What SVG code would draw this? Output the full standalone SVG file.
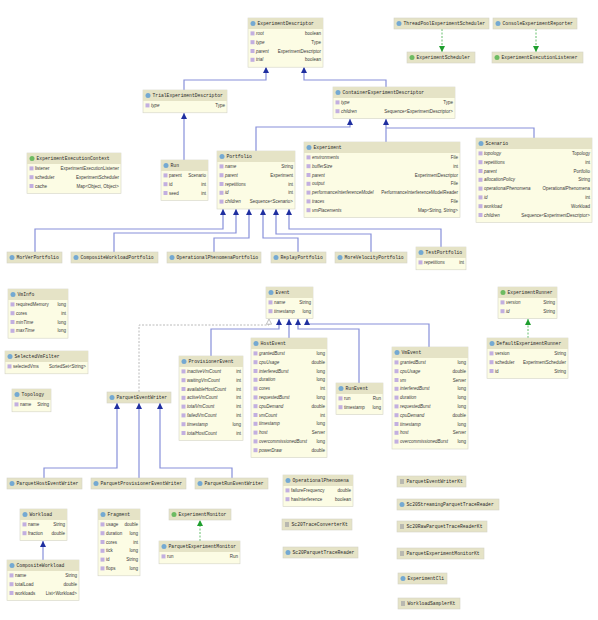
<svg xmlns="http://www.w3.org/2000/svg" width="598" height="620" viewBox="0 0 598 620">
<style>
.b{fill:#fcfce4;stroke:#d3d3c6;stroke-width:.6}
.h{fill:#e5e3c6}
.hb{fill:#e5e3c6;stroke:#d3d3c6;stroke-width:.6}
.t{font-family:"Liberation Mono",monospace;font-size:4.7px;fill:#2a2a2a}
.f{font-family:"Liberation Sans",sans-serif;font-size:4.5px;fill:#3a3a3a}
.i{font-style:italic}
.r{text-anchor:end;font-style:normal}
.ic{fill:#74a9d2}
.ii{fill:#6dbb62}
.ik{fill:#b8b8b0}
.p{fill:#c2afe0}
.g{stroke:#8790da;fill:none;stroke-width:1.2}
.gd{stroke:#3fae48;stroke-dasharray:2 1.5;fill:none;stroke-width:.8}
.dd{stroke:#a8a8a8;stroke-dasharray:2 1.5;fill:none;stroke-width:.8}
</style>
<defs>
<marker id="gen" markerUnits="userSpaceOnUse" markerWidth="6" markerHeight="6" viewBox="0 0 6 6" refX="6" refY="3" orient="auto"><path d="M0,0 L6,3 L0,6 z" fill="#1f2fa0"/></marker>
<marker id="real" markerUnits="userSpaceOnUse" markerWidth="6" markerHeight="6" viewBox="0 0 6 6" refX="6" refY="3" orient="auto"><path d="M0,0 L6,3 L0,6 z" fill="#1e9e2e"/></marker>
<marker id="dep" markerUnits="userSpaceOnUse" markerWidth="6" markerHeight="6" viewBox="0 0 6 6" refX="5.6" refY="3" orient="auto"><path d="M0.4,0.4 L5.6,3 L0.4,5.6 z" fill="#fff" stroke="#999" stroke-width=".6"/></marker>
</defs>

<g id="connectors">
<path class="g" marker-end="url(#gen)" d="M184 90 V80 H266 V67"/>
<path class="g" marker-end="url(#gen)" d="M386 87 V80 H304 V67"/>
<path class="g" marker-end="url(#gen)" d="M184 160 V113"/>
<path class="g" marker-end="url(#gen)" d="M256 151 V127 H350 V119"/>
<path class="g" marker-end="url(#gen)" d="M386 142 V119"/>
<path class="g" d="M534 138 V128 H386"/>
<path class="g" marker-end="url(#gen)" d="M35 252 V229 H223 V209"/>
<path class="g" marker-end="url(#gen)" d="M114 252 V233 H236 V209"/>
<path class="g" marker-end="url(#gen)" d="M214 252 V238 H249 V209"/>
<path class="g" marker-end="url(#gen)" d="M298 252 V238 H263 V209"/>
<path class="g" marker-end="url(#gen)" d="M371 252 V234 H276 V209"/>
<path class="g" marker-end="url(#gen)" d="M441 247 V229 H289 V209"/>
<path class="g" marker-end="url(#gen)" d="M211 356 V329 H279 V319"/>
<path class="g" marker-end="url(#gen)" d="M289 338 V319"/>
<path class="g" marker-end="url(#gen)" d="M359 383 V329 H298 V319"/>
<path class="g" marker-end="url(#gen)" d="M429 347 V324 H307 V319"/>
<path class="dd" marker-end="url(#dep)" d="M139 392 V325 H269 V319"/>
<path class="g" marker-end="url(#gen)" d="M44 478 V468 H117 V403"/>
<path class="g" marker-end="url(#gen)" d="M139 478 V403"/>
<path class="g" marker-end="url(#gen)" d="M232 478 V468 H160 V403"/>
<path class="g" marker-end="url(#gen)" d="M43 560 V541"/>
<path class="gd" marker-end="url(#real)" d="M442 29 V52"/>
<path class="gd" marker-end="url(#real)" d="M536 29 V52"/>
<path class="gd" marker-end="url(#real)" d="M528 338 V319"/>
<path class="gd" marker-end="url(#real)" d="M200 541 V520"/>
</g>

<g id="ExperimentDescriptor"><rect class="b" x="248" y="18" width="75" height="49.2"/><rect class="h" x="248" y="18" width="75" height="11"/><circle class="ic" cx="253" cy="23.5" r="2.5"/><text class="t" x="257.5" y="25.3">ExperimentDescriptor</text>
<rect class="p" x="250.5" y="31.4" width="4" height="4"/><text class="f i" x="256" y="35">root</text><text class="f r" x="321" y="35">boolean</text>
<rect class="p" x="250.5" y="40.2" width="4" height="4"/><text class="f i" x="256" y="43.8">type</text><text class="f r" x="321" y="43.8">Type</text>
<rect class="p" x="250.5" y="49" width="4" height="4"/><text class="f i" x="256" y="52.6">parent</text><text class="f r" x="321" y="52.6">ExperimentDescriptor</text>
<rect class="p" x="250.5" y="57.8" width="4" height="4"/><text class="f i" x="256" y="61.4">trial</text><text class="f r" x="321" y="61.4">boolean</text></g>

<g id="ThreadPoolExperimentScheduler"><rect class="hb" x="394" y="18" width="95" height="11"/><circle class="ic" cx="399" cy="23.5" r="2.5"/><text class="t" x="403.5" y="25.3">ThreadPoolExperimentScheduler</text></g>
<g id="ConsoleExperimentReporter"><rect class="hb" x="493" y="18" width="84" height="11"/><circle class="ic" cx="498" cy="23.5" r="2.5"/><text class="t" x="502.5" y="25.3">ConsoleExperimentReporter</text></g>
<g id="ExperimentScheduler"><rect class="hb" x="407" y="52" width="68" height="11"/><circle class="ii" cx="412" cy="57.5" r="2.5"/><text class="t" x="416.5" y="59.3">ExperimentScheduler</text></g>
<g id="ExperimentExecutionListener"><rect class="hb" x="492" y="52" width="91" height="11"/><circle class="ii" cx="497" cy="57.5" r="2.5"/><text class="t" x="501.5" y="59.3">ExperimentExecutionListener</text></g>

<g id="TrialExperimentDescriptor"><rect class="b" x="143" y="90" width="84" height="22.8"/><rect class="h" x="143" y="90" width="84" height="11"/><circle class="ic" cx="148" cy="95.5" r="2.5"/><text class="t" x="152.5" y="97.3">TrialExperimentDescriptor</text>
<rect class="p" x="145.5" y="103.4" width="4" height="4"/><text class="f i" x="151" y="107">type</text><text class="f r" x="225" y="107">Type</text></g>

<g id="ExperimentExecutionContext"><rect class="b" x="27" y="153" width="94" height="40.4"/><rect class="h" x="27" y="153" width="94" height="11"/><circle class="ii" cx="32" cy="158.5" r="2.5"/><text class="t" x="36.5" y="160.3">ExperimentExecutionContext</text>
<rect class="p" x="29.5" y="166.4" width="4" height="4"/><text class="f" x="35" y="170">listener</text><text class="f r" x="119" y="170">ExperimentExecutionListener</text>
<rect class="p" x="29.5" y="175.2" width="4" height="4"/><text class="f" x="35" y="178.8">scheduler</text><text class="f r" x="119" y="178.8">ExperimentScheduler</text>
<rect class="p" x="29.5" y="184" width="4" height="4"/><text class="f" x="35" y="187.6">cache</text><text class="f r" x="119" y="187.6">Map&lt;Object, Object&gt;</text></g>

<g id="Run"><rect class="b" x="161" y="160" width="47" height="40.4"/><rect class="h" x="161" y="160" width="47" height="11"/><circle class="ic" cx="166" cy="165.5" r="2.5"/><text class="t" x="170.5" y="167.3">Run</text>
<rect class="p" x="163.5" y="173.4" width="4" height="4"/><text class="f" x="169" y="177">parent</text><text class="f r" x="206" y="177">Scenario</text>
<rect class="p" x="163.5" y="182.2" width="4" height="4"/><text class="f" x="169" y="185.8">id</text><text class="f r" x="206" y="185.8">int</text>
<rect class="p" x="163.5" y="191" width="4" height="4"/><text class="f" x="169" y="194.6">seed</text><text class="f r" x="206" y="194.6">int</text></g>

<g id="ContainerExperimentDescriptor"><rect class="b" x="333" y="87" width="122" height="31.6"/><rect class="h" x="333" y="87" width="122" height="11"/><circle class="ic" cx="338" cy="92.5" r="2.5"/><text class="t" x="342.5" y="94.3">ContainerExperimentDescriptor</text>
<rect class="p" x="335.5" y="100.4" width="4" height="4"/><text class="f i" x="341" y="104">type</text><text class="f r" x="453" y="104">Type</text>
<rect class="p" x="335.5" y="109.2" width="4" height="4"/><text class="f i" x="341" y="112.8">children</text><text class="f r" x="453" y="112.8">Sequence&lt;ExperimentDescriptor&gt;</text></g>

<g id="Portfolio"><rect class="b" x="217" y="151" width="78" height="58"/><rect class="h" x="217" y="151" width="78" height="11"/><circle class="ic" cx="222" cy="156.5" r="2.5"/><text class="t" x="226.5" y="158.3">Portfolio</text>
<rect class="p" x="219.5" y="164.4" width="4" height="4"/><text class="f i" x="225" y="168">name</text><text class="f r" x="293" y="168">String</text>
<rect class="p" x="219.5" y="173.2" width="4" height="4"/><text class="f i" x="225" y="176.8">parent</text><text class="f r" x="293" y="176.8">Experiment</text>
<rect class="p" x="219.5" y="182" width="4" height="4"/><text class="f i" x="225" y="185.6">repetitions</text><text class="f r" x="293" y="185.6">int</text>
<rect class="p" x="219.5" y="190.8" width="4" height="4"/><text class="f i" x="225" y="194.4">id</text><text class="f r" x="293" y="194.4">int</text>
<rect class="p" x="219.5" y="199.6" width="4" height="4"/><text class="f i" x="225" y="203.2">children</text><text class="f r" x="293" y="203.2">Sequence&lt;Scenario&gt;</text></g>

<g id="Experiment"><rect class="b" x="304" y="142" width="156" height="75.6"/><rect class="h" x="304" y="142" width="156" height="11"/><circle class="ic" cx="309" cy="147.5" r="2.5"/><text class="t" x="313.5" y="149.3">Experiment</text>
<rect class="p" x="306.5" y="155.4" width="4" height="4"/><text class="f i" x="312" y="159">environments</text><text class="f r" x="458" y="159">File</text>
<rect class="p" x="306.5" y="164.2" width="4" height="4"/><text class="f i" x="312" y="167.8">bufferSize</text><text class="f r" x="458" y="167.8">int</text>
<rect class="p" x="306.5" y="173" width="4" height="4"/><text class="f i" x="312" y="176.6">parent</text><text class="f r" x="458" y="176.6">ExperimentDescriptor</text>
<rect class="p" x="306.5" y="181.8" width="4" height="4"/><text class="f i" x="312" y="185.4">output</text><text class="f r" x="458" y="185.4">File</text>
<rect class="p" x="306.5" y="190.6" width="4" height="4"/><text class="f i" x="312" y="194.2">performanceInterferenceModel</text><text class="f r" x="458" y="194.2">PerformanceInterferenceModelReader</text>
<rect class="p" x="306.5" y="199.4" width="4" height="4"/><text class="f i" x="312" y="203">traces</text><text class="f r" x="458" y="203">File</text>
<rect class="p" x="306.5" y="208.2" width="4" height="4"/><text class="f i" x="312" y="211.8">vmPlacements</text><text class="f r" x="458" y="211.8">Map&lt;String, String&gt;</text></g>

<g id="Scenario"><rect class="b" x="476" y="138" width="116" height="84.4"/><rect class="h" x="476" y="138" width="116" height="11"/><circle class="ic" cx="481" cy="143.5" r="2.5"/><text class="t" x="485.5" y="145.3">Scenario</text>
<rect class="p" x="478.5" y="151.4" width="4" height="4"/><text class="f i" x="484" y="155">topology</text><text class="f r" x="590" y="155">Topology</text>
<rect class="p" x="478.5" y="160.2" width="4" height="4"/><text class="f i" x="484" y="163.8">repetitions</text><text class="f r" x="590" y="163.8">int</text>
<rect class="p" x="478.5" y="169" width="4" height="4"/><text class="f i" x="484" y="172.6">parent</text><text class="f r" x="590" y="172.6">Portfolio</text>
<rect class="p" x="478.5" y="177.8" width="4" height="4"/><text class="f i" x="484" y="181.4">allocationPolicy</text><text class="f r" x="590" y="181.4">String</text>
<rect class="p" x="478.5" y="186.6" width="4" height="4"/><text class="f i" x="484" y="190.2">operationalPhenomena</text><text class="f r" x="590" y="190.2">OperationalPhenomena</text>
<rect class="p" x="478.5" y="195.4" width="4" height="4"/><text class="f i" x="484" y="199">id</text><text class="f r" x="590" y="199">int</text>
<rect class="p" x="478.5" y="204.2" width="4" height="4"/><text class="f i" x="484" y="207.8">workload</text><text class="f r" x="590" y="207.8">Workload</text>
<rect class="p" x="478.5" y="213" width="4" height="4"/><text class="f i" x="484" y="216.6">children</text><text class="f r" x="590" y="216.6">Sequence&lt;ExperimentDescriptor&gt;</text></g>

<g id="MorVerPortfolio"><rect class="hb" x="7" y="252" width="55" height="11"/><circle class="ic" cx="12" cy="257.5" r="2.5"/><text class="t" x="16.5" y="259.3">MorVerPortfolio</text></g>
<g id="CompositeWorkloadPortfolio"><rect class="hb" x="71" y="252" width="87" height="11"/><circle class="ic" cx="76" cy="257.5" r="2.5"/><text class="t" x="80.5" y="259.3">CompositeWorkloadPortfolio</text></g>
<g id="OperationalPhenomenaPortfolio"><rect class="hb" x="167" y="252" width="94" height="11"/><circle class="ic" cx="172" cy="257.5" r="2.5"/><text class="t" x="176.5" y="259.3">OperationalPhenomenaPortfolio</text></g>
<g id="ReplayPortfolio"><rect class="hb" x="271" y="252" width="55" height="11"/><circle class="ic" cx="276" cy="257.5" r="2.5"/><text class="t" x="280.5" y="259.3">ReplayPortfolio</text></g>
<g id="MoreVelocityPortfolio"><rect class="hb" x="335" y="252" width="72" height="11"/><circle class="ic" cx="340" cy="257.5" r="2.5"/><text class="t" x="344.5" y="259.3">MoreVelocityPortfolio</text></g>
<g id="TestPortfolio"><rect class="b" x="416" y="247" width="50" height="22.8"/><rect class="h" x="416" y="247" width="50" height="11"/><circle class="ic" cx="421" cy="252.5" r="2.5"/><text class="t" x="425.5" y="254.3">TestPortfolio</text>
<rect class="p" x="418.5" y="260.4" width="4" height="4"/><text class="f i" x="424" y="264">repetitions</text><text class="f r" x="464" y="264">int</text></g>

<g id="VmInfo"><rect class="b" x="8" y="289" width="60" height="49.2"/><rect class="h" x="8" y="289" width="60" height="11"/><circle class="ic" cx="13" cy="294.5" r="2.5"/><text class="t" x="17.5" y="296.3">VmInfo</text>
<rect class="p" x="10.5" y="302.4" width="4" height="4"/><text class="f" x="16" y="306">requiredMemory</text><text class="f r" x="66" y="306">long</text>
<rect class="p" x="10.5" y="311.2" width="4" height="4"/><text class="f" x="16" y="314.8">cores</text><text class="f r" x="66" y="314.8">int</text>
<rect class="p" x="10.5" y="320" width="4" height="4"/><text class="f i" x="16" y="323.6">minTime</text><text class="f r" x="66" y="323.6">long</text>
<rect class="p" x="10.5" y="328.8" width="4" height="4"/><text class="f i" x="16" y="332.4">maxTime</text><text class="f r" x="66" y="332.4">long</text></g>

<g id="SelectedVmFilter"><rect class="b" x="5" y="351" width="83" height="22.8"/><rect class="h" x="5" y="351" width="83" height="11"/><circle class="ic" cx="10" cy="356.5" r="2.5"/><text class="t" x="14.5" y="358.3">SelectedVmFilter</text>
<rect class="p" x="7.5" y="364.4" width="4" height="4"/><text class="f" x="13" y="368">selectedVms</text><text class="f r" x="86" y="368">SortedSet&lt;String&gt;</text></g>

<g id="Topology"><rect class="b" x="12" y="389" width="39" height="22.8"/><rect class="h" x="12" y="389" width="39" height="11"/><circle class="ic" cx="17" cy="394.5" r="2.5"/><text class="t" x="21.5" y="396.3">Topology</text>
<rect class="p" x="14.5" y="402.4" width="4" height="4"/><text class="f" x="20" y="406">name</text><text class="f r" x="49" y="406">String</text></g>

<g id="ParquetEventWriter"><rect class="hb" x="107" y="392" width="64" height="11"/><circle class="ic" cx="112" cy="397.5" r="2.5"/><text class="t" x="116.5" y="399.3">ParquetEventWriter</text></g>

<g id="Event"><rect class="b" x="266" y="287" width="47" height="31.6"/><rect class="h" x="266" y="287" width="47" height="11"/><circle class="ic" cx="271" cy="292.5" r="2.5"/><text class="t" x="275.5" y="294.3">Event</text>
<rect class="p" x="268.5" y="300.4" width="4" height="4"/><text class="f i" x="274" y="304">name</text><text class="f r" x="311" y="304">String</text>
<rect class="p" x="268.5" y="309.2" width="4" height="4"/><text class="f i" x="274" y="312.8">timestamp</text><text class="f r" x="311" y="312.8">long</text></g>

<g id="ProvisionerEvent"><rect class="b" x="179" y="356" width="64" height="84.4"/><rect class="h" x="179" y="356" width="64" height="11"/><circle class="ic" cx="184" cy="361.5" r="2.5"/><text class="t" x="188.5" y="363.3">ProvisionerEvent</text>
<rect class="p" x="181.5" y="369.4" width="4" height="4"/><text class="f i" x="187" y="373">inactiveVmCount</text><text class="f r" x="241" y="373">int</text>
<rect class="p" x="181.5" y="378.2" width="4" height="4"/><text class="f i" x="187" y="381.8">waitingVmCount</text><text class="f r" x="241" y="381.8">int</text>
<rect class="p" x="181.5" y="387" width="4" height="4"/><text class="f i" x="187" y="390.6">availableHostCount</text><text class="f r" x="241" y="390.6">int</text>
<rect class="p" x="181.5" y="395.8" width="4" height="4"/><text class="f i" x="187" y="399.4">activeVmCount</text><text class="f r" x="241" y="399.4">int</text>
<rect class="p" x="181.5" y="404.6" width="4" height="4"/><text class="f i" x="187" y="408.2">totalVmCount</text><text class="f r" x="241" y="408.2">int</text>
<rect class="p" x="181.5" y="413.4" width="4" height="4"/><text class="f i" x="187" y="417">failedVmCount</text><text class="f r" x="241" y="417">int</text>
<rect class="p" x="181.5" y="422.2" width="4" height="4"/><text class="f i" x="187" y="425.8">timestamp</text><text class="f r" x="241" y="425.8">long</text>
<rect class="p" x="181.5" y="431" width="4" height="4"/><text class="f i" x="187" y="434.6">totalHostCount</text><text class="f r" x="241" y="434.6">int</text></g>

<g id="HostEvent"><rect class="b" x="251" y="338" width="76" height="119.6"/><rect class="h" x="251" y="338" width="76" height="11"/><circle class="ic" cx="256" cy="343.5" r="2.5"/><text class="t" x="260.5" y="345.3">HostEvent</text>
<rect class="p" x="253.5" y="351.4" width="4" height="4"/><text class="f i" x="259" y="355">grantedBurst</text><text class="f r" x="325" y="355">long</text>
<rect class="p" x="253.5" y="360.2" width="4" height="4"/><text class="f i" x="259" y="363.8">cpuUsage</text><text class="f r" x="325" y="363.8">double</text>
<rect class="p" x="253.5" y="369" width="4" height="4"/><text class="f i" x="259" y="372.6">interferedBurst</text><text class="f r" x="325" y="372.6">long</text>
<rect class="p" x="253.5" y="377.8" width="4" height="4"/><text class="f i" x="259" y="381.4">duration</text><text class="f r" x="325" y="381.4">long</text>
<rect class="p" x="253.5" y="386.6" width="4" height="4"/><text class="f i" x="259" y="390.2">cores</text><text class="f r" x="325" y="390.2">int</text>
<rect class="p" x="253.5" y="395.4" width="4" height="4"/><text class="f i" x="259" y="399">requestedBurst</text><text class="f r" x="325" y="399">long</text>
<rect class="p" x="253.5" y="404.2" width="4" height="4"/><text class="f i" x="259" y="407.8">cpuDemand</text><text class="f r" x="325" y="407.8">double</text>
<rect class="p" x="253.5" y="413" width="4" height="4"/><text class="f i" x="259" y="416.6">vmCount</text><text class="f r" x="325" y="416.6">int</text>
<rect class="p" x="253.5" y="421.8" width="4" height="4"/><text class="f i" x="259" y="425.4">timestamp</text><text class="f r" x="325" y="425.4">long</text>
<rect class="p" x="253.5" y="430.6" width="4" height="4"/><text class="f i" x="259" y="434.2">host</text><text class="f r" x="325" y="434.2">Server</text>
<rect class="p" x="253.5" y="439.4" width="4" height="4"/><text class="f i" x="259" y="443">overcommissionedBurst</text><text class="f r" x="325" y="443">long</text>
<rect class="p" x="253.5" y="448.2" width="4" height="4"/><text class="f i" x="259" y="451.8">powerDraw</text><text class="f r" x="325" y="451.8">double</text></g>

<g id="RunEvent"><rect class="b" x="336" y="383" width="47" height="31.6"/><rect class="h" x="336" y="383" width="47" height="11"/><circle class="ic" cx="341" cy="388.5" r="2.5"/><text class="t" x="345.5" y="390.3">RunEvent</text>
<rect class="p" x="338.5" y="396.4" width="4" height="4"/><text class="f" x="344" y="400">run</text><text class="f r" x="381" y="400">Run</text>
<rect class="p" x="338.5" y="405.2" width="4" height="4"/><text class="f" x="344" y="408.8">timestamp</text><text class="f r" x="381" y="408.8">long</text></g>

<g id="VmEvent"><rect class="b" x="392" y="347" width="76" height="102"/><rect class="h" x="392" y="347" width="76" height="11"/><circle class="ic" cx="397" cy="352.5" r="2.5"/><text class="t" x="401.5" y="354.3">VmEvent</text>
<rect class="p" x="394.5" y="360.4" width="4" height="4"/><text class="f i" x="400" y="364">grantedBurst</text><text class="f r" x="466" y="364">long</text>
<rect class="p" x="394.5" y="369.2" width="4" height="4"/><text class="f i" x="400" y="372.8">cpuUsage</text><text class="f r" x="466" y="372.8">double</text>
<rect class="p" x="394.5" y="378" width="4" height="4"/><text class="f i" x="400" y="381.6">vm</text><text class="f r" x="466" y="381.6">Server</text>
<rect class="p" x="394.5" y="386.8" width="4" height="4"/><text class="f i" x="400" y="390.4">interferedBurst</text><text class="f r" x="466" y="390.4">long</text>
<rect class="p" x="394.5" y="395.6" width="4" height="4"/><text class="f i" x="400" y="399.2">duration</text><text class="f r" x="466" y="399.2">long</text>
<rect class="p" x="394.5" y="404.4" width="4" height="4"/><text class="f i" x="400" y="408">requestedBurst</text><text class="f r" x="466" y="408">long</text>
<rect class="p" x="394.5" y="413.2" width="4" height="4"/><text class="f i" x="400" y="416.8">cpuDemand</text><text class="f r" x="466" y="416.8">double</text>
<rect class="p" x="394.5" y="422" width="4" height="4"/><text class="f i" x="400" y="425.6">timestamp</text><text class="f r" x="466" y="425.6">long</text>
<rect class="p" x="394.5" y="430.8" width="4" height="4"/><text class="f i" x="400" y="434.4">host</text><text class="f r" x="466" y="434.4">Server</text>
<rect class="p" x="394.5" y="439.6" width="4" height="4"/><text class="f i" x="400" y="443.2">overcommissionedBurst</text><text class="f r" x="466" y="443.2">long</text></g>

<g id="ExperimentRunner"><rect class="b" x="498" y="287" width="59" height="31.6"/><rect class="h" x="498" y="287" width="59" height="11"/><circle class="ii" cx="503" cy="292.5" r="2.5"/><text class="t" x="507.5" y="294.3">ExperimentRunner</text>
<rect class="p" x="500.5" y="300.4" width="4" height="4"/><text class="f i" x="506" y="304">version</text><text class="f r" x="555" y="304">String</text>
<rect class="p" x="500.5" y="309.2" width="4" height="4"/><text class="f i" x="506" y="312.8">id</text><text class="f r" x="555" y="312.8">String</text></g>

<g id="DefaultExperimentRunner"><rect class="b" x="487" y="338" width="81" height="40.4"/><rect class="h" x="487" y="338" width="81" height="11"/><circle class="ic" cx="492" cy="343.5" r="2.5"/><text class="t" x="496.5" y="345.3">DefaultExperimentRunner</text>
<rect class="p" x="489.5" y="351.4" width="4" height="4"/><text class="f" x="495" y="355">version</text><text class="f r" x="566" y="355">String</text>
<rect class="p" x="489.5" y="360.2" width="4" height="4"/><text class="f" x="495" y="363.8">scheduler</text><text class="f r" x="566" y="363.8">ExperimentScheduler</text>
<rect class="p" x="489.5" y="369" width="4" height="4"/><text class="f" x="495" y="372.6">id</text><text class="f r" x="566" y="372.6">String</text></g>

<g id="ParquetHostEventWriter"><rect class="hb" x="7" y="478" width="75" height="11"/><circle class="ic" cx="12" cy="483.5" r="2.5"/><text class="t" x="16.5" y="485.3">ParquetHostEventWriter</text></g>
<g id="ParquetProvisionerEventWriter"><rect class="hb" x="91" y="478" width="95" height="11"/><circle class="ic" cx="96" cy="483.5" r="2.5"/><text class="t" x="100.5" y="485.3">ParquetProvisionerEventWriter</text></g>
<g id="ParquetRunEventWriter"><rect class="hb" x="195" y="478" width="73" height="11"/><circle class="ic" cx="200" cy="483.5" r="2.5"/><text class="t" x="204.5" y="485.3">ParquetRunEventWriter</text></g>

<g id="Workload"><rect class="b" x="20" y="509" width="47" height="31.6"/><rect class="h" x="20" y="509" width="47" height="11"/><circle class="ic" cx="25" cy="514.5" r="2.5"/><text class="t" x="29.5" y="516.3">Workload</text>
<rect class="p" x="22.5" y="522.4" width="4" height="4"/><text class="f" x="28" y="526">name</text><text class="f r" x="65" y="526">String</text>
<rect class="p" x="22.5" y="531.2" width="4" height="4"/><text class="f" x="28" y="534.8">fraction</text><text class="f r" x="65" y="534.8">double</text></g>

<g id="CompositeWorkload"><rect class="b" x="7" y="560" width="72" height="40.4"/><rect class="h" x="7" y="560" width="72" height="11"/><circle class="ic" cx="12" cy="565.5" r="2.5"/><text class="t" x="16.5" y="567.3">CompositeWorkload</text>
<rect class="p" x="9.5" y="573.4" width="4" height="4"/><text class="f" x="15" y="577">name</text><text class="f r" x="77" y="577">String</text>
<rect class="p" x="9.5" y="582.2" width="4" height="4"/><text class="f" x="15" y="585.8">totalLoad</text><text class="f r" x="77" y="585.8">double</text>
<rect class="p" x="9.5" y="591" width="4" height="4"/><text class="f" x="15" y="594.6">workloads</text><text class="f r" x="77" y="594.6">List&lt;Workload&gt;</text></g>

<g id="Fragment"><rect class="b" x="98" y="509" width="42" height="66.8"/><rect class="h" x="98" y="509" width="42" height="11"/><circle class="ic" cx="103" cy="514.5" r="2.5"/><text class="t" x="107.5" y="516.3">Fragment</text>
<rect class="p" x="100.5" y="522.4" width="4" height="4"/><text class="f" x="106" y="526">usage</text><text class="f r" x="138" y="526">double</text>
<rect class="p" x="100.5" y="531.2" width="4" height="4"/><text class="f" x="106" y="534.8">duration</text><text class="f r" x="138" y="534.8">long</text>
<rect class="p" x="100.5" y="540" width="4" height="4"/><text class="f" x="106" y="543.6">cores</text><text class="f r" x="138" y="543.6">int</text>
<rect class="p" x="100.5" y="548.8" width="4" height="4"/><text class="f" x="106" y="552.4">tick</text><text class="f r" x="138" y="552.4">long</text>
<rect class="p" x="100.5" y="557.6" width="4" height="4"/><text class="f" x="106" y="561.2">id</text><text class="f r" x="138" y="561.2">String</text>
<rect class="p" x="100.5" y="566.4" width="4" height="4"/><text class="f" x="106" y="570">flops</text><text class="f r" x="138" y="570">long</text></g>

<g id="ExperimentMonitor"><rect class="hb" x="169" y="509" width="62" height="11"/><circle class="ii" cx="174" cy="514.5" r="2.5"/><text class="t" x="178.5" y="516.3">ExperimentMonitor</text></g>

<g id="ParquetExperimentMonitor"><rect class="b" x="159" y="541" width="81" height="22.8"/><rect class="h" x="159" y="541" width="81" height="11"/><circle class="ic" cx="164" cy="546.5" r="2.5"/><text class="t" x="168.5" y="548.3">ParquetExperimentMonitor</text>
<rect class="p" x="161.5" y="554.4" width="4" height="4"/><text class="f" x="167" y="558">run</text><text class="f r" x="238" y="558">Run</text></g>

<g id="OperationalPhenomena"><rect class="b" x="283" y="475" width="70" height="31.6"/><rect class="h" x="283" y="475" width="70" height="11"/><circle class="ic" cx="288" cy="480.5" r="2.5"/><text class="t" x="292.5" y="482.3">OperationalPhenomena</text>
<rect class="p" x="285.5" y="488.4" width="4" height="4"/><text class="f" x="291" y="492">failureFrequency</text><text class="f r" x="351" y="492">double</text>
<rect class="p" x="285.5" y="497.2" width="4" height="4"/><text class="f" x="291" y="500.8">hasInterference</text><text class="f r" x="351" y="500.8">boolean</text></g>

<g id="Sc20TraceConverterKt"><rect class="hb" x="282" y="519" width="70" height="11"/><rect class="ik" x="285" y="522" width="4" height="5"/><text class="t" x="291.5" y="526.3">Sc20TraceConverterKt</text></g>
<g id="Sc20ParquetTraceReader"><rect class="hb" x="283" y="547" width="75" height="11"/><circle class="ic" cx="288" cy="552.5" r="2.5"/><text class="t" x="292.5" y="554.3">Sc20ParquetTraceReader</text></g>
<g id="ParquetEventWriterKt"><rect class="hb" x="397" y="476" width="69" height="11"/><rect class="ik" x="400" y="479" width="4" height="5"/><text class="t" x="406.5" y="483.3">ParquetEventWriterKt</text></g>
<g id="Sc20StreamingParquetTraceReader"><rect class="hb" x="397" y="499" width="102" height="11"/><circle class="ic" cx="402" cy="504.5" r="2.5"/><text class="t" x="406.5" y="506.3">Sc20StreamingParquetTraceReader</text></g>
<g id="Sc20RawParquetTraceReaderKt"><rect class="hb" x="397" y="521" width="90" height="11"/><rect class="ik" x="400" y="524" width="4" height="5"/><text class="t" x="406.5" y="528.3">Sc20RawParquetTraceReaderKt</text></g>
<g id="ParquetExperimentMonitorKt"><rect class="hb" x="397" y="548" width="87" height="11"/><rect class="ik" x="400" y="551" width="4" height="5"/><text class="t" x="406.5" y="555.3">ParquetExperimentMonitorKt</text></g>
<g id="ExperimentCli"><rect class="hb" x="398" y="573" width="49" height="11"/><circle class="ic" cx="403" cy="578.5" r="2.5"/><text class="t" x="407.5" y="580.3">ExperimentCli</text></g>
<g id="WorkloadSamplerKt"><rect class="hb" x="398" y="598" width="62" height="11"/><rect class="ik" x="401" y="601" width="4" height="5"/><text class="t" x="407.5" y="605.3">WorkloadSamplerKt</text></g>
</svg>
